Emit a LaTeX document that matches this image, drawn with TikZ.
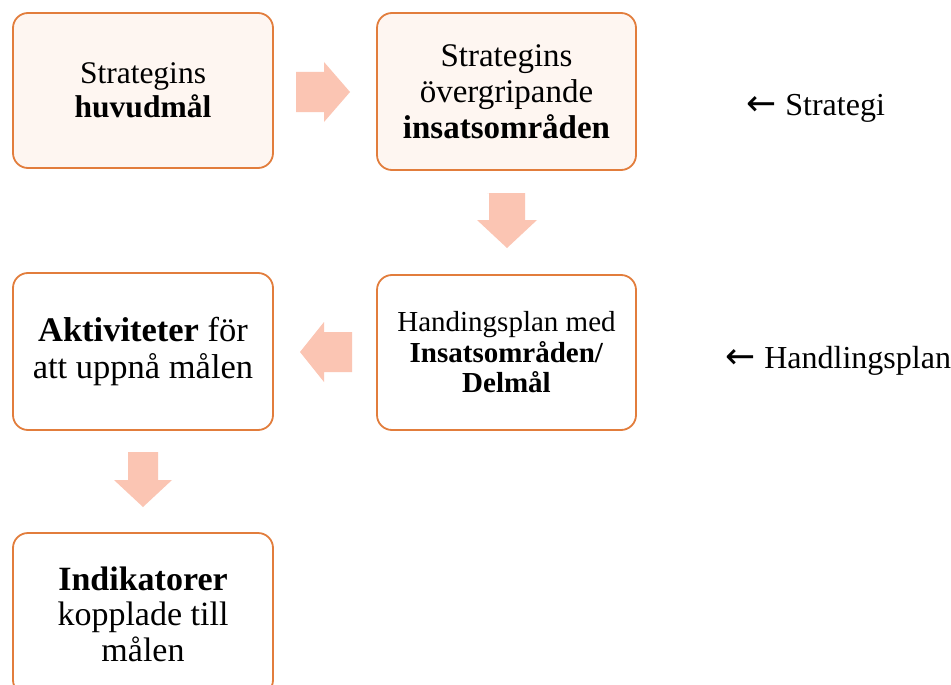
\documentclass[tikz,border=0pt]{standalone}
\usepackage{fontspec}
\setmainfont{Liberation Serif}
\newfontfamily\arrowfont{DejaVu Sans}
\usetikzlibrary{calc}
\definecolor{boxline}{HTML}{E27D3C}
\definecolor{peach}{HTML}{FEF6F1}
\definecolor{arrowfill}{HTML}{FBC5B3}
\tikzset{
  box/.style={draw=boxline, line width=1.8pt, rounded corners=15pt, align=center, inner sep=4pt},
  peachbox/.style={box, fill=peach},
  whitebox/.style={box, fill=white},
  blockarrow/.style={fill=arrowfill, draw=none},
  sidelabel/.style={anchor=west, inner sep=0pt, font={\fontsize{32}{36}\selectfont}}
}
\newcommand{\leftarr}{{\arrowfont\fontsize{36}{36}\selectfont ←}\hspace{9pt}}
\begin{document}
\begin{tikzpicture}[x=1pt,y=1pt]
\useasboundingbox (0,0) rectangle (951,-685);
\clip (0,0) rectangle (951,-685);
\fill[white] (0,0) rectangle (951,-685);
% boxes
\node[peachbox, minimum width=260pt, minimum height=155pt, font={\fontsize{31.5}{34}\selectfont}] (b1) at (143,-90.5)
  {Strategins\\\textbf{huvudmål}};
\node[peachbox, minimum width=259pt, minimum height=157pt, font={\fontsize{33}{36}\selectfont}] (b2) at (506.5,-91.5)
  {Strategins\\övergripande\\\textbf{insatsområden}};
\node[whitebox, minimum width=259pt, minimum height=155pt, font={\fontsize{29}{30.5}\selectfont}] (b3) at (506.5,-352.5)
  {Handingsplan med\\\textbf{Insatsområden/}\\\textbf{Delmål}};
\node[whitebox, minimum width=260pt, minimum height=157pt, font={\fontsize{34.5}{37}\selectfont}] (b4) at (143,-351.5)
  {\textbf{Aktiviteter} för\\att uppnå målen};
\node[whitebox, minimum width=260pt, minimum height=162pt, font={\fontsize{34}{35.5}\selectfont}] (b5) at (143,-614)
  {\textbf{Indikatorer}\\kopplade till\\målen};
% block arrows
\fill[blockarrow] (296,-72) -- (324,-72) -- (324,-62) -- (350,-92) -- (324,-122) -- (324,-112) -- (296,-112) -- cycle;
\fill[blockarrow] (487,-193) -- (525,-193) -- (525,-220) -- (537,-220) -- (507,-248) -- (477,-220) -- (489,-220) -- (489,-193) -- cycle;
\fill[blockarrow] (352,-332) -- (324,-332) -- (324,-322) -- (300,-352) -- (324,-382) -- (324,-372) -- (352,-372) -- cycle;
\fill[blockarrow] (128,-452) -- (158,-452) -- (158,-480) -- (172,-480) -- (143,-507) -- (114,-480) -- (128,-480) -- cycle;
% side labels
\node[sidelabel] (s1) at (746,-108) {\leftarr Strategi};
\node[sidelabel] (s2) at (725,-361) {\leftarr Handlingsplan};
\end{tikzpicture}
\end{document}
